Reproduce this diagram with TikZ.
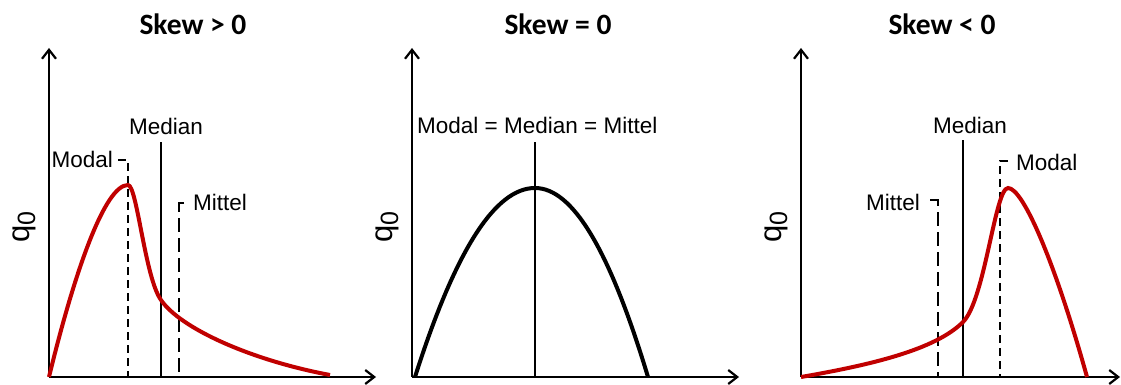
\documentclass[tikz,border=0pt]{standalone}
\usepackage{fontspec}
\setmainfont{Liberation Sans}
\newfontfamily\titlefont{Carlito}
\usetikzlibrary{arrows.meta}
\definecolor{curvered}{HTML}{C00000}
\tikzset{
  axisline/.style={line width=2.2pt, -{Straight Barb[length=9pt,width=14pt,line width=2.2pt]}},
  redcurve/.style={line width=4pt, curvered},
  blackcurve/.style={line width=4pt, black},
  medline/.style={line width=2pt},
  modalline/.style={line width=2pt, dash pattern=on 8pt off 5pt},
  mittelline/.style={line width=2pt, dash pattern=on 14pt off 6pt},
  lbl/.style={inner sep=0pt, font=\fontsize{22.5}{24}\selectfont},
  ttl/.style={inner sep=0pt, font=\titlefont\bfseries\fontsize{29.5}{30}\selectfont},
  qlbl/.style={inner sep=0pt, rotate=90}
}
\newcommand{\qnull}{{\fontsize{31}{31}\selectfont q\raisebox{-6pt}{\fontsize{25}{25}\selectfont 0}}}
\begin{document}
\begin{tikzpicture}[x=1pt,y=-1pt]
\useasboundingbox (0,0) rectangle (1121,385);

% ---------- Panel 1 : Skew > 0 ----------
\coordinate (o1) at (49,377);
\coordinate (y1) at (49,48);
\coordinate (x1) at (376,377);
\draw[axisline] (o1) -- (y1);
\draw[axisline] (o1) -- (x1);
\node[ttl] (t1) at (193,24) {Skew > 0};
\node[qlbl] (q1) at (24,227) {\qnull};

\coordinate (md1t) at (118,160);
\coordinate (md1c) at (128,160);
\coordinate (md1b) at (128,377);
\draw[modalline] (md1t) -- (md1c) -- (md1b);
\node[lbl, anchor=base east] (modal1) at (113,167) {Modal};

\coordinate (me1t) at (161,142);
\coordinate (me1b) at (161,377);
\draw[medline] (me1t) -- (me1b);
\node[lbl, anchor=base west] (median1) at (129,135) {Median};

\coordinate (mi1t) at (184,203);
\coordinate (mi1c) at (179,203);
\coordinate (mi1b) at (179,377);
\draw[mittelline] (mi1t) -- (mi1c) -- (mi1b);
\node[lbl, anchor=base west] (mittel1) at (193,210) {Mittel};

\draw[redcurve] (49,377) .. controls (75,270) and (105,185) .. (128,185)
  .. controls (137,185) and (145,278) .. (161,300)
  .. controls (180,328) and (250,360) .. (330,375);

% ---------- Panel 2 : Skew = 0 ----------
\coordinate (o2) at (412,377);
\coordinate (y2) at (412,48);
\coordinate (x2) at (739,377);
\draw[axisline] (o2) -- (y2);
\draw[axisline] (o2) -- (x2);
\node[ttl] (t2) at (558,24) {Skew = 0};
\node[qlbl] (q2) at (387,227) {\qnull};

\coordinate (me2t) at (535,142);
\coordinate (me2b) at (535,377);
\draw[medline] (me2t) -- (me2b);
\node[lbl, anchor=base west] (all2) at (417,133) {Modal = Median = Mittel};

\draw[blackcurve] (415,377) .. controls (455,251) and (495,188) .. (535,188)
  .. controls (573,188) and (610,251) .. (648,377);

% ---------- Panel 3 : Skew < 0 ----------
\coordinate (o3) at (801,377);
\coordinate (y3) at (801,48);
\coordinate (x3) at (1120,377);
\draw[axisline] (o3) -- (y3);
\draw[axisline] (o3) -- (x3);
\node[ttl] (t3) at (942,24) {Skew < 0};
\node[qlbl] (q3) at (776,227) {\qnull};

\coordinate (mi3t) at (930,200);
\coordinate (mi3c) at (938,200);
\coordinate (mi3b) at (938,377);
\draw[mittelline] (mi3t) -- (mi3c) -- (mi3b);
\node[lbl, anchor=base east] (mittel3) at (920,210) {Mittel};

\coordinate (me3t) at (963,140);
\coordinate (me3b) at (963,377);
\draw[medline] (me3t) -- (me3b);
\node[lbl, anchor=base west] (median3) at (933,133) {Median};

\coordinate (md3t) at (1008,161);
\coordinate (md3c) at (1000,161);
\coordinate (md3b) at (1000,377);
\draw[modalline] (md3t) -- (md3c) -- (md3b);
\node[lbl, anchor=base west] (modal3) at (1016,170) {Modal};

\draw[redcurve] (801,377) .. controls (870,365) and (935,350) .. (963,322)
  .. controls (985,300) and (995,188) .. (1008,188)
  .. controls (1023,188) and (1055,262) .. (1087,377);
\end{tikzpicture}
\end{document}
